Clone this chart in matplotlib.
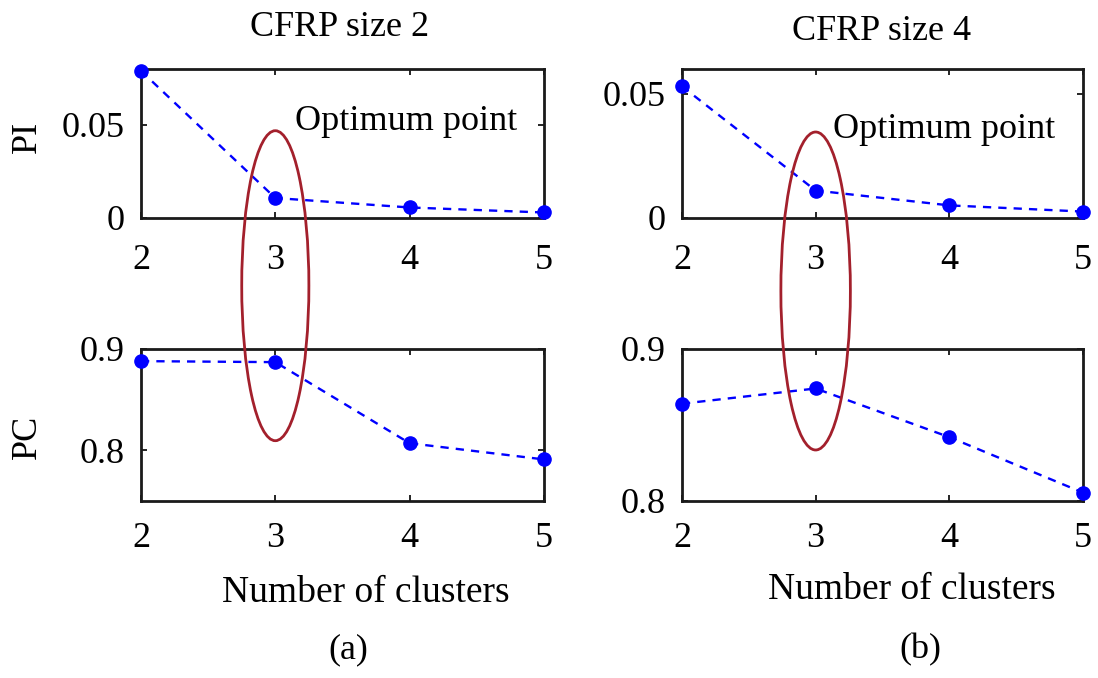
import matplotlib
matplotlib.use("Agg")
import matplotlib.pyplot as plt
from matplotlib.patches import Ellipse
from matplotlib.transforms import blended_transform_factory

plt.rcParams['font.family'] = ['Liberation Serif', 'DejaVu Serif']

# datos de validez del clustering
clusters = [2, 3, 4, 5]
pi_size2 = [0.079, 0.0105, 0.0054, 0.0027]
pc_size2 = [0.888, 0.887, 0.807, 0.791]
pi_size4 = [0.053, 0.0109, 0.0049, 0.0024]
pc_size4 = [0.864, 0.874, 0.842, 0.8055]

titulos = ["CFRP size 2", "CFRP size 4"]
subfig = ["(a)", "(b)"]

fig = plt.figure(figsize=(10.98, 6.78), dpi=100)

azul = "#0000ff"
rojo = "#a3202c"
fs = 26


def estilo(ax, ylim, yticks, yticklabels, xpad):
    ax.set_xlim(2, 5)
    ax.set_ylim(*ylim)
    ax.set_xticks(clusters)
    ax.set_xticklabels([str(c) for c in clusters])
    ax.set_yticks(yticks)
    ax.set_yticklabels(yticklabels)
    ax.tick_params(direction="in", top=True, right=True, length=4, width=1.2,
                   labelsize=fs, colors="black")
    ax.tick_params(axis="x", pad=18)
    ax.tick_params(axis="y", pad=12)
    if xpad:
        ax.tick_params(axis="x", pad=xpad)
    for s in ax.spines.values():
        s.set_linewidth(2)
        s.set_color("#1a1a1a")


def curva(ax, y):
    ax.plot(clusters, y, linestyle=(0, (3.5, 3)), color=azul, linewidth=1.7,
            marker="o", markersize=9.5, markerfacecolor=azul,
            markeredgecolor=azul, clip_on=False, zorder=5)


# panel (a)
ax1 = fig.add_axes([0.1284, 0.6792, 0.3670, 0.2190])
curva(ax1, pi_size2)
estilo(ax1, (0, 0.08), [0, 0.05], ["0", "0.05"], 19)
ax1.text(3.15, 0.0515, "Optimum point", fontsize=fs, va="center", ha="left")

ax2 = fig.add_axes([0.1284, 0.2611, 0.3670, 0.2242])
curva(ax2, pc_size2)
estilo(ax2, (0.75, 0.9), [0.8, 0.9], ["0.8", "0.9"], 15)

# panel (b)
ax3 = fig.add_axes([0.6211, 0.6792, 0.3652, 0.2190])
curva(ax3, pi_size4)
estilo(ax3, (0, 0.06), [0, 0.05], ["0", "0.05"], 19)
ax3.text(3.13, 0.0355, "Optimum point", fontsize=fs, va="center", ha="left")

ax4 = fig.add_axes([0.6211, 0.2611, 0.3652, 0.2242])
curva(ax4, pc_size4)
estilo(ax4, (0.8, 0.9), [0.8, 0.9], ["0.8", "0.9"], 15)

# elipses marcando el punto optimo (x = 3)
for ax, ancho, yc, alto in [(ax1, 0.50, 0.5786, 0.4572), (ax3, 0.52, 0.5708, 0.4690)]:
    trans = blended_transform_factory(ax.transData, fig.transFigure)
    e = Ellipse((3, yc), ancho, alto, transform=trans, fill=False,
                edgecolor=rojo, linewidth=2, zorder=10)
    fig.add_artist(e)

# textos
fig.text(340 / 1098, 1 - 28 / 678, titulos[0], fontsize=fs, ha="center", va="center")
fig.text(882 / 1098, 1 - 31 / 678, titulos[1], fontsize=fs, ha="center", va="center")

fig.text(27 / 1098, 1 - 137 / 678, "PI", fontsize=fs, rotation=90, ha="center", va="center")
fig.text(27 / 1098, 1 - 437 / 678, "PC", fontsize=fs, rotation=90, ha="center", va="center")

fig.text(366 / 1098, 1 - 593 / 678, "Number of clusters", fontsize=27, ha="center", va="center")
fig.text(912 / 1098, 1 - 590 / 678, "Number of clusters", fontsize=27, ha="center", va="center")

fig.text(348 / 1098, 1 - 650 / 678, subfig[0], fontsize=fs, ha="center", va="center")
fig.text(920 / 1098, 1 - 650 / 678, subfig[1], fontsize=fs, ha="center", va="center")

fig.savefig("out.png", dpi=100, facecolor="white")
